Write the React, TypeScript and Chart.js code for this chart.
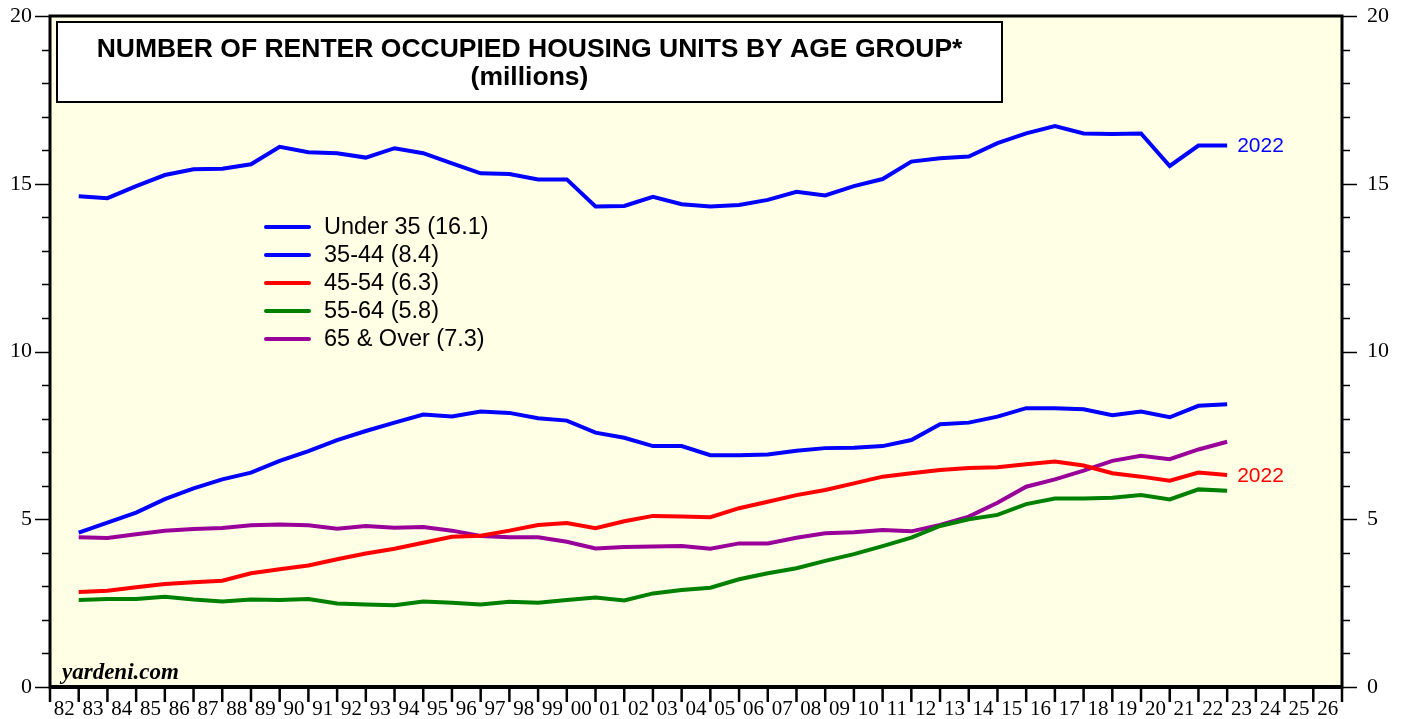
import React, { useEffect, useRef } from 'react';
import { Chart, registerables } from 'chart.js';

Chart.register(...registerables);

const years = [
  1982, 1983, 1984, 1985, 1986, 1987, 1988, 1989, 1990, 1991,
  1992, 1993, 1994, 1995, 1996, 1997, 1998, 1999, 2000, 2001,
  2002, 2003, 2004, 2005, 2006, 2007, 2008, 2009, 2010, 2011,
  2012, 2013, 2014, 2015, 2016, 2017, 2018, 2019, 2020, 2021,
  2022,
];

const under35 = [
  14.63, 14.57, 14.93, 15.26, 15.43, 15.45, 15.58, 16.10, 15.94, 15.91,
  15.78, 16.06, 15.91, 15.61, 15.31, 15.29, 15.13, 15.13, 14.32, 14.34,
  14.61, 14.39, 14.32, 14.37, 14.52, 14.76, 14.65, 14.93, 15.14, 15.66,
  15.76, 15.81, 16.21, 16.50, 16.72, 16.50, 16.48, 16.50, 15.53, 16.14,
  16.14,
];

const age35to44 = [
  4.60, 4.90, 5.20, 5.60, 5.92, 6.19, 6.39, 6.74, 7.03, 7.36,
  7.63, 7.88, 8.12, 8.06, 8.21, 8.17, 8.01, 7.94, 7.58, 7.43,
  7.18, 7.18, 6.91, 6.91, 6.93, 7.04, 7.12, 7.13, 7.18, 7.36,
  7.83, 7.88, 8.06, 8.31, 8.31, 8.28, 8.10, 8.21, 8.04, 8.38,
  8.43,
];

const age45to54 = [
  2.83, 2.87, 2.97, 3.07, 3.12, 3.17, 3.39, 3.51, 3.62, 3.81,
  3.98, 4.12, 4.30, 4.48, 4.51, 4.66, 4.83, 4.89, 4.73, 4.94,
  5.10, 5.08, 5.06, 5.33, 5.52, 5.72, 5.87, 6.07, 6.27, 6.37,
  6.47, 6.53, 6.55, 6.64, 6.72, 6.60, 6.37, 6.27, 6.15, 6.39,
  6.32,
];

const age55to64 = [
  2.59, 2.62, 2.62, 2.69, 2.61, 2.55, 2.61, 2.59, 2.62, 2.49,
  2.46, 2.44, 2.55, 2.51, 2.46, 2.54, 2.51, 2.59, 2.67, 2.58,
  2.79, 2.89, 2.96, 3.21, 3.39, 3.54, 3.76, 3.96, 4.20, 4.45,
  4.80, 5.00, 5.13, 5.45, 5.62, 5.62, 5.64, 5.72, 5.59, 5.89,
  5.85,
];

const age65over = [
  4.46, 4.44, 4.55, 4.66, 4.71, 4.74, 4.82, 4.84, 4.82, 4.72,
  4.80, 4.75, 4.77, 4.66, 4.50, 4.46, 4.46, 4.33, 4.13, 4.17,
  4.19, 4.20, 4.12, 4.28, 4.28, 4.45, 4.58, 4.61, 4.68, 4.64,
  4.83, 5.08, 5.49, 5.97, 6.19, 6.45, 6.74, 6.89, 6.79, 7.08,
  7.31,
];

const seriesLabels = ['Under 35 (16.1)', '35-44 (8.4)', '45-54 (6.3)', '55-64 (5.8)', '65 & Over (7.3)'];
const seriesColors = ['#0000ff', '#0000ff', '#ff0000', '#008000', '#990099'];

const titleLines = ['NUMBER OF RENTER OCCUPIED HOUSING UNITS BY AGE GROUP*', '(millions)'];
const endLabel = '2022';
const sourceText = 'yardeni.com';

const SERIF = '"Liberation Serif", "Times New Roman", serif';
const SANS = '"Liberation Sans", Arial, sans-serif';

const noPadV = (w: number) => (s: any) => {
  s.width = w;
  s.paddingTop = 0;
  s.paddingBottom = 0;
};

export default function App() {
  const ref = useRef<HTMLCanvasElement>(null);

  useEffect(() => {
    document.body.style.margin = '0';
    const canvas = ref.current;
    if (!canvas) return;

    const all = [under35, age35to44, age45to54, age55to64, age65over];
    const datasets = all.map((vals, i) => ({
      label: seriesLabels[i],
      data: years.map((yr, j) => ({ x: yr, y: vals[j] })),
      borderColor: seriesColors[i],
      backgroundColor: seriesColors[i],
      borderWidth: 4,
      pointRadius: 0,
      tension: 0,
      fill: false,
      borderJoinStyle: 'miter' as const,
    }));

    const deco = {
      id: 'deco',
      beforeDraw(chart: any) {
        const { ctx, chartArea: a } = chart;
        ctx.save();
        ctx.fillStyle = '#ffffff';
        ctx.fillRect(0, 0, chart.width, chart.height);
        ctx.fillStyle = '#ffffe6';
        ctx.fillRect(a.left, a.top, a.right - a.left, a.bottom - a.top);
        ctx.restore();
      },
      afterDraw(chart: any) {
        const { ctx, chartArea: a } = chart;
        const xs = chart.scales.x;
        const ys = chart.scales.y;
        ctx.save();
        // frame
        ctx.strokeStyle = '#000';
        ctx.lineWidth = 3;
        ctx.strokeRect(a.left, a.top, a.right - a.left, a.bottom - a.top);
        ctx.lineWidth = 4;
        ctx.beginPath();
        ctx.moveTo(a.left - 1, a.bottom);
        ctx.lineTo(a.right + 1, a.bottom);
        ctx.stroke();
        // y ticks
        ctx.lineWidth = 1.5;
        for (let v = 0; v <= 20; v++) {
          const py = Math.round(ys.getPixelForValue(v)) + 0.5;
          const len = v % 5 === 0 ? 15 : 8;
          ctx.beginPath();
          ctx.moveTo(a.left - len, py);
          ctx.lineTo(a.left, py);
          ctx.moveTo(a.right, py);
          ctx.lineTo(a.right + len, py);
          ctx.stroke();
        }
        // x ticks
        ctx.lineWidth = 2.5;
        for (let v = xs.min; v <= xs.max; v++) {
          const px = xs.getPixelForValue(v);
          ctx.beginPath();
          ctx.moveTo(px, a.bottom);
          ctx.lineTo(px, a.bottom + 15);
          ctx.stroke();
        }
        // title box
        ctx.fillStyle = '#ffffff';
        ctx.fillRect(57, 22, 945, 80);
        ctx.lineWidth = 2;
        ctx.strokeRect(57, 22, 945, 80);
        ctx.fillStyle = '#000';
        ctx.font = `bold 26.5px ${SANS}`;
        ctx.textAlign = 'center';
        ctx.textBaseline = 'middle';
        ctx.fillText(titleLines[0], 529.5, 50);
        ctx.fillText(titleLines[1], 529.5, 78);
        // legend
        ctx.textAlign = 'left';
        ctx.font = `23.5px ${SANS}`;
        seriesLabels.forEach((lab, i) => {
          const yy = 227 + i * 28;
          ctx.strokeStyle = seriesColors[i];
          ctx.lineWidth = 4;
          ctx.lineCap = 'round';
          ctx.beginPath();
          ctx.moveTo(266, yy);
          ctx.lineTo(309, yy);
          ctx.stroke();
          ctx.fillStyle = '#000';
          ctx.fillText(lab, 324, yy + 1);
        });
        ctx.lineCap = 'butt';
        // end labels
        const last = years.length - 1;
        ctx.font = `21px ${SANS}`;
        ctx.fillStyle = seriesColors[0];
        ctx.fillText(endLabel, xs.getPixelForValue(years[last]) + 10, ys.getPixelForValue(under35[last]) + 1);
        ctx.fillStyle = seriesColors[2];
        ctx.fillText(endLabel, xs.getPixelForValue(years[last]) + 10, ys.getPixelForValue(age45to54[last]) + 1);
        // source
        ctx.fillStyle = '#000';
        ctx.textBaseline = 'alphabetic';
        ctx.font = `italic bold 23px ${SERIF}`;
        ctx.fillText(sourceText, 62, 679);
        ctx.restore();
      },
    };

    const yFont = { family: SERIF, size: 22 };
    const xFont = { family: SERIF, size: 21 };

    const chart = new Chart(canvas, {
      type: 'line',
      data: { datasets },
      options: {
        animation: false,
        responsive: false,
        layout: { padding: { top: 16, left: 0, right: 0, bottom: 0 } },
        plugins: { legend: { display: false }, tooltip: { enabled: false } },
        scales: {
          x: {
            type: 'linear',
            min: 1981,
            max: 2026,
            afterFit: (s: any) => {
              s.height = 32;
              s.paddingLeft = 0;
              s.paddingRight = 0;
            },
            grid: { display: false, drawTicks: false },
            border: { display: false },
            ticks: {
              stepSize: 1,
              autoSkip: false,
              maxRotation: 0,
              minRotation: 0,
              labelOffset: 14.36,
              padding: 10,
              color: '#000',
              font: xFont,
              callback: (v: any) => (v >= 2026 ? '' : String((v + 1) % 100).padStart(2, '0')),
            },
          },
          y: {
            type: 'linear',
            position: 'left',
            min: 0,
            max: 20,
            afterFit: noPadV(50),
            grid: { display: false, drawTicks: false },
            border: { display: false },
            ticks: {
              stepSize: 1,
              autoSkip: false,
              padding: 18,
              color: '#000',
              font: yFont,
              callback: (v: any) => (v % 5 === 0 ? String(v) : ''),
            },
          },
          y2: {
            type: 'linear',
            position: 'right',
            min: 0,
            max: 20,
            afterFit: noPadV(63),
            grid: { display: false, drawTicks: false },
            border: { display: false },
            ticks: {
              stepSize: 1,
              autoSkip: false,
              padding: 25,
              color: '#000',
              font: yFont,
              callback: (v: any) => (v % 5 === 0 ? String(v) : ''),
            },
          },
        },
      },
      plugins: [deco],
    });

    return () => chart.destroy();
  }, []);

  return (
    <div style={{ position: 'fixed', left: 0, top: 0, width: 1405, height: 719, background: '#fff' }}>
      <canvas ref={ref} width={1405} height={719} style={{ display: 'block' }} />
    </div>
  );
}
